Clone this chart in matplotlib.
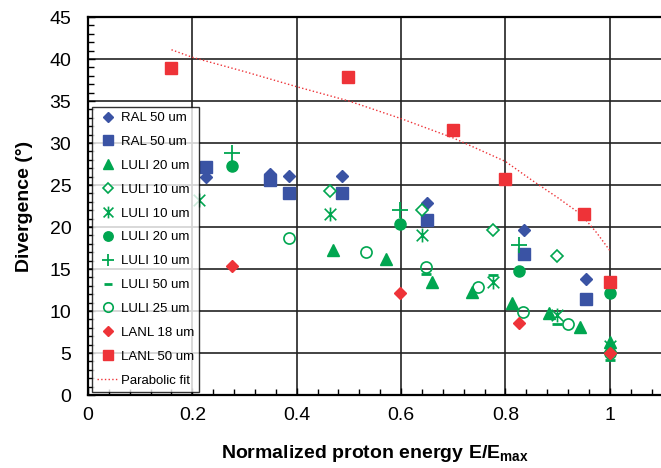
import numpy as np
import matplotlib
matplotlib.use('Agg')
import matplotlib.pyplot as plt
from matplotlib.path import Path
from matplotlib.ticker import MultipleLocator, FormatStrFormatter

plt.rcParams['font.family'] = ['Liberation Sans', 'DejaVu Sans']
plt.rcParams['mathtext.fontset'] = 'custom'
plt.rcParams['mathtext.rm'] = 'Liberation Sans'
plt.rcParams['mathtext.bf'] = 'Liberation Sans:bold'

blue = '#3a53a4'
green = '#00a650'
red = '#ee3338'

# data
ral_d_x = [0.226, 0.349, 0.385, 0.487, 0.649, 0.836, 0.954]
ral_d_y = [26.0, 26.3, 26.1, 26.1, 22.9, 19.6, 13.8]
ral_s_x = [0.226, 0.349, 0.385, 0.487, 0.649, 0.836, 0.954]
ral_s_y = [27.2, 25.6, 24.1, 24.1, 20.8, 16.8, 11.4]
luli20t_x = [0.470, 0.571, 0.660, 0.736, 0.812, 0.884, 0.943, 1.0]
luli20t_y = [17.3, 16.2, 13.4, 12.3, 11.0, 9.8, 8.1, 6.3]
luli10d_x = [0.463, 0.641, 0.777, 0.898]
luli10d_y = [24.3, 22.0, 19.6, 16.5]
luli10a_x = [0.213, 0.463, 0.641, 0.777, 0.899, 1.0]
luli10a_y = [23.2, 21.5, 19.0, 13.4, 9.5, 5.8]
luli20c_x = [0.276, 0.598, 0.826, 1.0]
luli20c_y = [27.3, 20.4, 14.8, 12.1]
luli10p_x = [0.276, 0.598, 0.826]
luli10p_y = [28.8, 22.0, 17.9]
luli50_x = [0.647, 0.777, 0.899, 1.0]
luli50_y = [14.4, 14.3, 8.45, 4.2]
luli25_x = [0.385, 0.533, 0.647, 0.747, 0.833, 0.920, 1.0]
luli25_y = [18.7, 17.0, 15.2, 12.9, 9.9, 8.4, 5.0]
lanl18_x = [0.276, 0.598, 0.826, 1.0]
lanl18_y = [15.4, 12.2, 8.6, 5.0]
lanl50_x = [0.159, 0.499, 0.699, 0.800, 0.951, 1.0]
lanl50_y = [38.9, 37.9, 31.5, 25.7, 21.6, 13.5]
fit_x = [0.16, 0.2, 0.3, 0.4, 0.5, 0.6, 0.7, 0.8, 0.85, 0.9, 0.945, 0.975, 1.0]
fit_y = [41.1, 40.2, 38.5, 36.7, 35.0, 32.9, 30.6, 27.8, 25.6, 23.5, 21.5, 19.3, 17.2]

# asterisk marker: an X with a vertical bar
star = Path([(-0.5, -0.5), (0.5, 0.5), (-0.5, 0.5), (0.5, -0.5), (0, -0.6), (0, 0.6)],
            [Path.MOVETO, Path.LINETO, Path.MOVETO, Path.LINETO, Path.MOVETO, Path.LINETO])

fig = plt.figure(figsize=(6.61, 4.68), dpi=100)
ax = fig.add_axes([88/661, 73/468, 574/661, 378/468])

ms = dict(linestyle='none', zorder=3)
ax.plot(ral_d_x, ral_d_y, marker='D', ms=6, color=blue, mec=blue, label='RAL 50 um', **ms)
ax.plot(ral_s_x, ral_s_y, marker='s', ms=8, color=blue, label='RAL 50 um', **ms)
ax.plot(luli20t_x, luli20t_y, marker='^', ms=9, color=green, label='LULI 20 um', **ms)
ax.plot(luli10d_x, luli10d_y, marker='D', ms=6, color=green, mfc='white', mew=1.2,
        label='LULI 10 um', **ms)
ax.plot(luli10a_x, luli10a_y, marker=star, ms=10, color=green, mew=1.2, label='LULI 10 um', **ms)
ax.plot(luli20c_x, luli20c_y, marker='o', ms=8, color=green, label='LULI 20 um', **ms)
ax.plot(luli10p_x, luli10p_y, marker='+', ms=11, color=green, mew=1.3, label='LULI 10 um', **ms)
ax.plot(luli50_x, luli50_y, marker='_', ms=7, color=green, mew=2, label='LULI 50 um', **ms)
ax.plot(luli25_x, luli25_y, marker='o', ms=8, color=green, mfc='none', mew=1.2,
        label='LULI 25 um', **ms)
ax.plot(lanl18_x, lanl18_y, marker='D', ms=6, color=red, label='LANL 18 um', **ms)
ax.plot(lanl50_x, lanl50_y, marker='s', ms=8, color=red, label='LANL 50 um', **ms)
ax.plot(fit_x, fit_y, linestyle=':', color=red, lw=1, label='Parabolic fit', zorder=2)

ax.set_xlim(0, 1.1)
ax.set_ylim(0, 45)
ax.xaxis.set_major_locator(MultipleLocator(0.2))
ax.xaxis.set_minor_locator(MultipleLocator(0.04))
ax.yaxis.set_major_locator(MultipleLocator(5))
ax.yaxis.set_minor_locator(MultipleLocator(1))
ax.xaxis.set_major_formatter(FormatStrFormatter('%g'))
ax.tick_params(which='both', direction='in', width=1, labelsize=14)
ax.tick_params(which='major', length=5)
ax.tick_params(which='minor', length=4)
ax.tick_params(axis='y', pad=12)
ax.tick_params(axis='x', pad=9)
ax.grid(True, which='major', color='#222222', lw=1.2)
ax.set_axisbelow(True)
for s in ax.spines.values():
    s.set_linewidth(1.6)
ax.spines['right'].set_visible(False)

ax.set_xlabel(r'Normalized proton energy E/E$_{\mathbf{max}}$', fontsize=14,
              fontweight='bold', labelpad=13)
ax.set_ylabel('Divergence (°)', fontsize=14, fontweight='bold', labelpad=12)

leg = ax.legend(loc='upper left', bbox_to_anchor=(0.0065, 0.7627), borderaxespad=0,
                fontsize=9.5, frameon=True, fancybox=False, edgecolor='black',
                borderpad=0.4, labelspacing=0.88, handlelength=1.6, handletextpad=0.2,
                markerscale=0.85)
leg.get_frame().set_linewidth(1.0)
leg.set_zorder(5)

fig.savefig('out.png', dpi=100)
